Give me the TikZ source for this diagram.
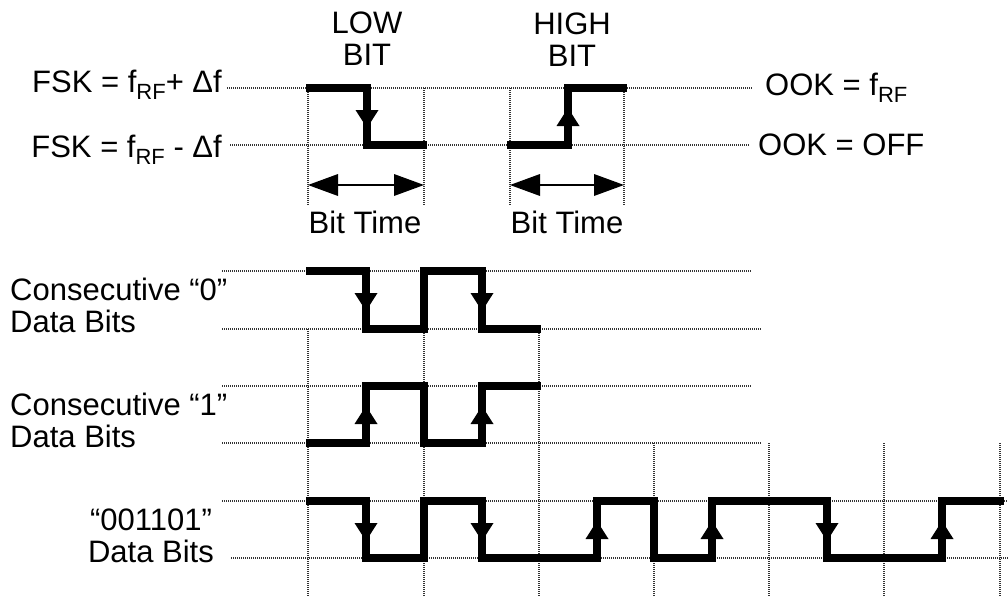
\documentclass[tikz,border=0pt]{standalone}
\usepackage{fontspec}
\setmainfont{Liberation Sans}
\usepackage{tikz}
\usetikzlibrary{arrows.meta,positioning}
\newcommand{\rfsub}{\raisebox{-7pt}{\fontsize{22}{22}\selectfont RF}}
% edge heads: #1 = x of the edge, #2 = y of its high level
\newcommand{\headdn}[2]{\fill (#1-11.5,#2+22) -- (#1+11.5,#2+22) -- (#1,#2+40) -- cycle;}
\newcommand{\headup}[2]{\fill (#1-11.5,#2+38) -- (#1+11.5,#2+38) -- (#1,#2+20) -- cycle;}

\begin{document}
\begin{tikzpicture}[
  x=1pt,y=-1pt,
  lbl/.style={font=\fontsize{31}{32}\selectfont,inner sep=0pt},
  gridline/.style={draw=black!80,line width=1.4pt,dash pattern=on 1pt off 1pt},
  wave/.style={line width=7.5pt,line join=miter,line cap=butt},
  bitarr/.style={{Triangle[length=30pt,width=22pt,line width=0pt]}-{Triangle[length=30pt,width=22pt,line width=0pt]},
    line width=2pt}
]
\useasboundingbox (0,0) rectangle (1008,597);

% levels and bit boundaries
\draw[gridline] (227,88) -- (753,88);
\draw[gridline] (230,145) -- (749,145);
\draw[gridline] (308,88) -- (308,205) (424,88) -- (424,205)
  (510,88) -- (510,205) (624,88) -- (624,205);
\draw[gridline] (222,271) -- (752,271) (222,329) -- (761,329);
\draw[gridline] (222,386) -- (752,386) (222,443) -- (761,443);
\draw[gridline] (222,501) -- (1008,501) (231,558) -- (1008,558);
\draw[gridline] (308,329) -- (308,597) (424,329) -- (424,597)
  (539,329) -- (539,597);
\draw[gridline] (654,443) -- (654,597) (769,443) -- (769,597)
  (884,443) -- (884,597) (1000,443) -- (1000,597);

% labels (multi-line ones sit on the baseline of their last line)
\node[lbl,anchor=base east] (fskhi) at (222,92) {FSK = f\rfsub+ Δf};
\node[lbl,anchor=base east] (fsklo) at (222,157) {FSK = f\rfsub{} - Δf};
\node[lbl,anchor=base west] (ookhi) at (765,95) {OOK = f\rfsub};
\node[lbl,anchor=base west] (ooklo) at (758,155) {OOK = OFF};
\node[lbl,align=center,anchor=base] (lowbit) at (367,65) {LOW\\BIT};
\node[lbl,align=center,anchor=base] (highbit) at (572,66) {HIGH\\BIT};
\node[lbl,anchor=base] (btlow) at (365,233) {Bit Time};
\node[lbl,anchor=base] (bthigh) at (567,233) {Bit Time};
\node[lbl,align=left,anchor=base west] (cons0) at (10,332)
  {Consecutive “0”\\Data Bits};
\node[lbl,align=left,anchor=base west] (cons1) at (10,447)
  {Consecutive “1”\\Data Bits};
\node[lbl,align=center,anchor=base] (seq) at (151,562) {“001101”\\Data Bits};

% bit time
\coordinate (bl1) at (308,185);
\coordinate (bl2) at (424,185);
\coordinate (bh1) at (510,185);
\coordinate (bh2) at (624,185);
\draw[bitarr] (bl1) -- (bl2);
\draw[bitarr] (bh1) -- (bh2);

% single bits
\draw[wave] (306,88) -- (367,88) -- (367,145) -- (427,145);
\headdn{367}{88}
\draw[wave] (507,145) -- (568,145) -- (568,88) -- (627,88);
\headup{568}{88}

% consecutive 0
\draw[wave] (306,271) -- (366,271) -- (366,329) -- (424,329) -- (424,271)
  -- (482,271) -- (482,329) -- (541,329);
\headdn{366}{271}
\headdn{482}{271}

% consecutive 1
\draw[wave] (306,443) -- (366,443) -- (366,386) -- (424,386) -- (424,443)
  -- (482,443) -- (482,386) -- (541,386);
\headup{366}{386}
\headup{482}{386}

% 001101
\draw[wave] (306,501) -- (366,501) -- (366,558) -- (424,558) -- (424,501)
  -- (482,501) -- (482,558) -- (597,558) -- (597,501) -- (654,501)
  -- (654,558) -- (712,558) -- (712,501) -- (827,501) -- (827,558)
  -- (942,558) -- (942,501) -- (1004,501);
\headdn{366}{501}
\headdn{482}{501}
\headup{597}{501}
\headup{712}{501}
\headdn{827}{501}
\headup{942}{501}
\end{tikzpicture}
\end{document}
